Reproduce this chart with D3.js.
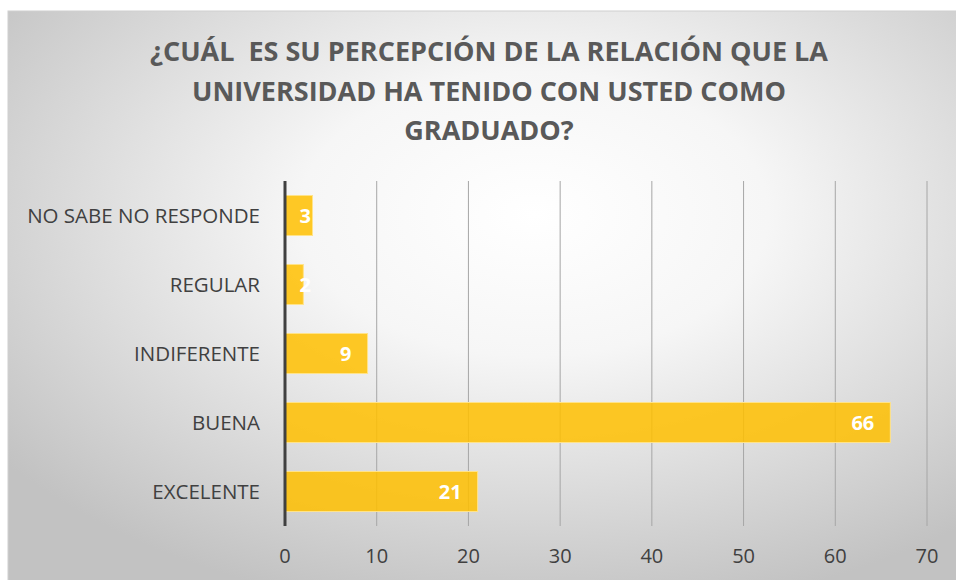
<!DOCTYPE html>
<html>
<head>
<meta charset="utf-8">
<script src="https://cdn.jsdelivr.net/npm/d3@7"></script>
<style>
  body { margin: 0; background: #fff; }
  svg { display: block; font-family: "Open Sans", sans-serif; }
</style>
</head>
<body>
<div id="chart"></div>
<script>
// datos del grafico
var categorias = ["NO SABE NO RESPONDE", "REGULAR", "INDIFERENTE", "BUENA", "EXCELENTE"];
var valores = [3, 2, 9, 66, 21];
var ticks = [0, 10, 20, 30, 40, 50, 60, 70];
var titulo = ["¿CUÁL  ES SU PERCEPCIÓN DE LA RELACIÓN QUE LA",
              "UNIVERSIDAD HA TENIDO CON USTED COMO",
              "GRADUADO?"];

var W = 956, H = 580;
var margin = {top: 181, right: 29, bottom: 54, left: 285};

var svg = d3.select("#chart").append("svg")
    .attr("width", W)
    .attr("height", H);

// fondo con degradado radial
var defs = svg.append("defs");
var grad = defs.append("radialGradient")
    .attr("id", "fondo")
    .attr("cx", "55%").attr("cy", "35%")
    .attr("r", "70%");
grad.append("stop").attr("offset", "0%").attr("stop-color", "#ffffff");
grad.append("stop").attr("offset", "35%").attr("stop-color", "#f6f6f6");
grad.append("stop").attr("offset", "100%").attr("stop-color", "#c2c2c2");

svg.append("rect")
    .attr("x", 8).attr("y", 11)
    .attr("width", W).attr("height", H)
    .attr("fill", "url(#fondo)")
    .attr("stroke", "#d0d0d0");

// titulo
svg.append("g").selectAll("text")
    .data(titulo)
    .enter().append("text")
    .attr("x", 489)
    .attr("y", function(d, i) { return 61 + i * 39.5; })
    .attr("text-anchor", "middle")
    .attr("font-size", 27)
    .attr("font-weight", "bold")
    .attr("fill", "#595959")
    .style("white-space", "pre")
    .text(function(d) { return d; });

var x = d3.scaleLinear()
    .domain([0, 70])
    .range([margin.left, W - margin.right]);

var y = d3.scaleBand()
    .domain(categorias)
    .range([margin.top, H - margin.bottom])
    .paddingInner(0.42)
    .paddingOuter(0.21);

// lineas de cuadricula
svg.append("g").selectAll("line")
    .data(ticks.slice(1))
    .enter().append("line")
    .attr("x1", function(d) { return x(d); })
    .attr("x2", function(d) { return x(d); })
    .attr("y1", margin.top)
    .attr("y2", H - margin.bottom)
    .attr("stroke", "#a6a6a6")
    .attr("stroke-width", 1);

// barras
svg.append("g").selectAll("rect")
    .data(valores)
    .enter().append("rect")
    .attr("x", x(0))
    .attr("y", function(d, i) { return y(categorias[i]); })
    .attr("width", function(d) { return x(d) - x(0); })
    .attr("height", y.bandwidth())
    .attr("fill", "#ffc000")
    .attr("fill-opacity", 0.85)
    .attr("stroke", "#ffe38a")
    .attr("stroke-width", 1);

// etiquetas de valores
svg.append("g").selectAll("text")
    .data(valores)
    .enter().append("text")
    .attr("x", function(d) { return Math.max(x(d) - 16, x(0) + 26); })
    .attr("y", function(d, i) { return y(categorias[i]) + y.bandwidth() / 2; })
    .attr("dy", "0.35em")
    .attr("text-anchor", "end")
    .attr("font-size", 20)
    .attr("font-weight", "bold")
    .attr("fill", "#ffffff")
    .text(function(d) { return d; });

// eje vertical
svg.append("line")
    .attr("x1", x(0)).attr("x2", x(0))
    .attr("y1", margin.top).attr("y2", H - margin.bottom)
    .attr("stroke", "#404040")
    .attr("stroke-width", 3);

// categorias
svg.append("g").selectAll("text")
    .data(categorias)
    .enter().append("text")
    .attr("x", x(0) - 25)
    .attr("y", function(d) { return y(d) + y.bandwidth() / 2; })
    .attr("dy", "0.35em")
    .attr("text-anchor", "end")
    .attr("font-size", 20.5)
    .attr("fill", "#404040")
    .text(function(d) { return d; });

// marcas del eje x
svg.append("g").selectAll("text")
    .data(ticks)
    .enter().append("text")
    .attr("x", function(d) { return x(d); })
    .attr("y", 556)
    .attr("dy", "0.35em")
    .attr("text-anchor", "middle")
    .attr("font-size", 20)
    .attr("fill", "#404040")
    .text(function(d) { return d; });
</script>
</body>
</html>
